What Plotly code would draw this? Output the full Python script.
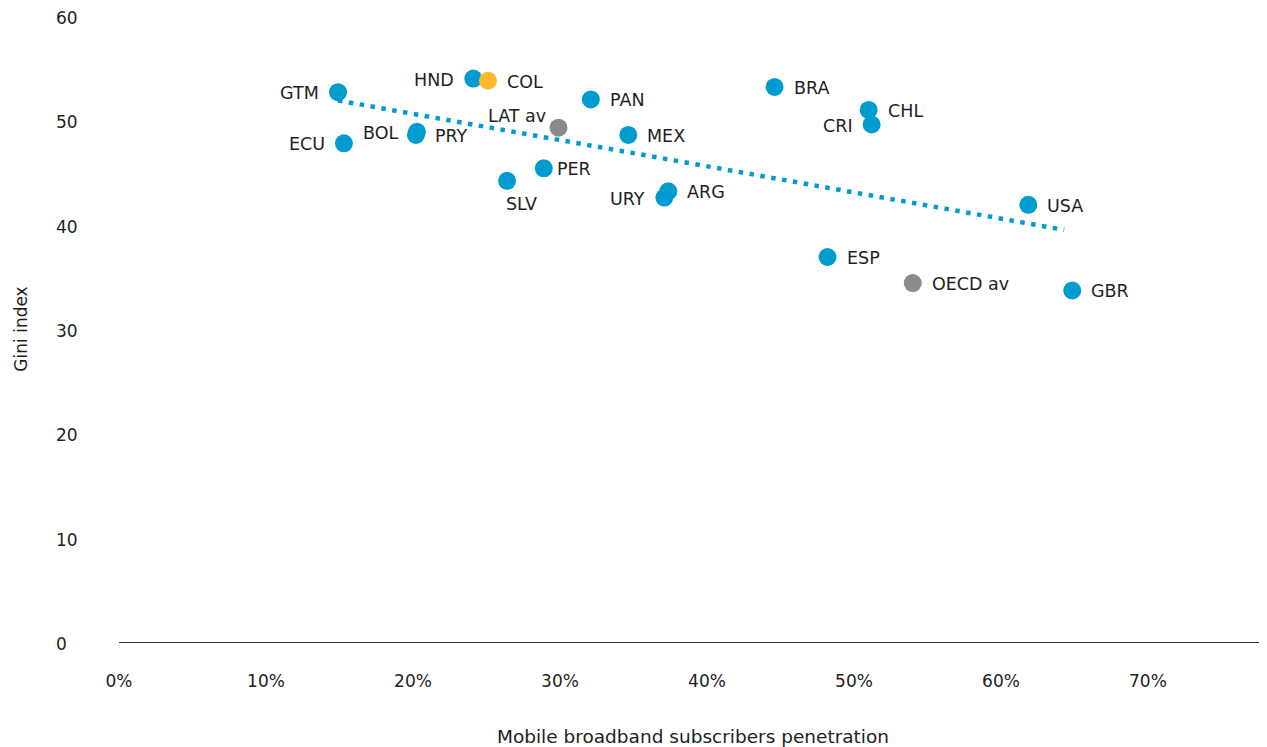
import plotly.graph_objects as go

countries = ["GTM", "HND", "COL", "PAN", "BRA", "CHL", "CRI", "LAT av", "MEX", "ECU",
             "BOL", "PRY", "PER", "SLV", "URY", "ARG", "USA", "ESP", "OECD av", "GBR"]
penetration = [0.149, 0.241, 0.251, 0.321, 0.446, 0.510, 0.512, 0.299, 0.3465, 0.153,
               0.2027, 0.202, 0.289, 0.264, 0.371, 0.3737, 0.6186, 0.482, 0.540, 0.6485]
gini = [52.7, 54.0, 53.8, 52.0, 53.2, 51.0, 49.6, 49.3, 48.6, 47.8,
        48.9, 48.6, 45.4, 44.2, 42.6, 43.2, 41.9, 36.9, 34.4, 33.7]

# label placement style per country: (xanchor, yanchor, xshift, yshift)
R = ("left", "middle", 17, -1)
L = ("right", "middle", -17, -1)
label_style = [L, L, R, R, R, R, L, ("right", "middle", -11, 12), R, L,
               L, R, ("left", "middle", 11, -1), ("center", "middle", 14, -23), L,
               R, R, R, R, R]

colors = ["#009CCF"] * len(countries)
colors[countries.index("COL")] = "#FDB92B"
colors[countries.index("LAT av")] = "#8A8A8A"
colors[countries.index("OECD av")] = "#8A8A8A"

trend_x = [0.149, 0.643]
trend_y = [51.9, 39.5]

x_ticks = [0, 0.1, 0.2, 0.3, 0.4, 0.5, 0.6, 0.7]
x_tick_labels = ["0%", "10%", "20%", "30%", "40%", "50%", "60%", "70%"]
y_ticks = [0, 10, 20, 30, 40, 50, 60]

font_family = "DejaVu Sans, sans-serif"
text_color = "#1E1E1E"
fs = 17
label_fs = 17.5
title_fs = 18.5

fig = go.Figure()
fig.add_trace(go.Scatter(
    x=trend_x, y=trend_y, mode="lines",
    line=dict(color="#009CCF", width=4.5, dash="4.5px,6.5px"),
    hoverinfo="skip", showlegend=False,
))
fig.add_trace(go.Scatter(
    x=penetration, y=gini, mode="markers",
    text=countries,
    marker=dict(size=18, color=colors, line=dict(width=0)),
    showlegend=False,
))

annotations = []
for name, xv, yv, st in zip(countries, penetration, gini, label_style):
    annotations.append(dict(
        x=xv, y=yv, xref="x", yref="y", text=name, showarrow=False,
        xanchor=st[0], yanchor=st[1], xshift=st[2], yshift=st[3],
        font=dict(family=font_family, size=label_fs, color=text_color),
    ))
for v in y_ticks:
    annotations.append(dict(
        x=0, y=v, xref="paper", yref="y", text=str(v), showarrow=False,
        xanchor="left", yanchor="middle", xshift=-65, yshift=-2,
        font=dict(family=font_family, size=fs, color=text_color),
    ))

fig.update_layout(
    width=1259, height=739,
    margin=dict(l=111, r=0, t=8, b=99),
    paper_bgcolor="white", plot_bgcolor="white",
    font=dict(family=font_family, size=fs, color=text_color),
    annotations=annotations,
    xaxis=dict(
        range=[0, 0.781], tickvals=x_ticks, ticktext=x_tick_labels,
        showgrid=False, zeroline=False, showline=True, linecolor="#333333", linewidth=1.3,
        ticks="", ticklabelstandoff=23,
        title=dict(text="Mobile broadband subscribers penetration", standoff=44,
                   font=dict(size=title_fs)),
    ),
    yaxis=dict(
        range=[0, 60], tickvals=y_ticks, showticklabels=False,
        showgrid=False, zeroline=False, showline=False, ticks="",
        title=dict(text="Gini index", standoff=86, font=dict(size=fs)),
    ),
)

fig.write_html("out.html")
